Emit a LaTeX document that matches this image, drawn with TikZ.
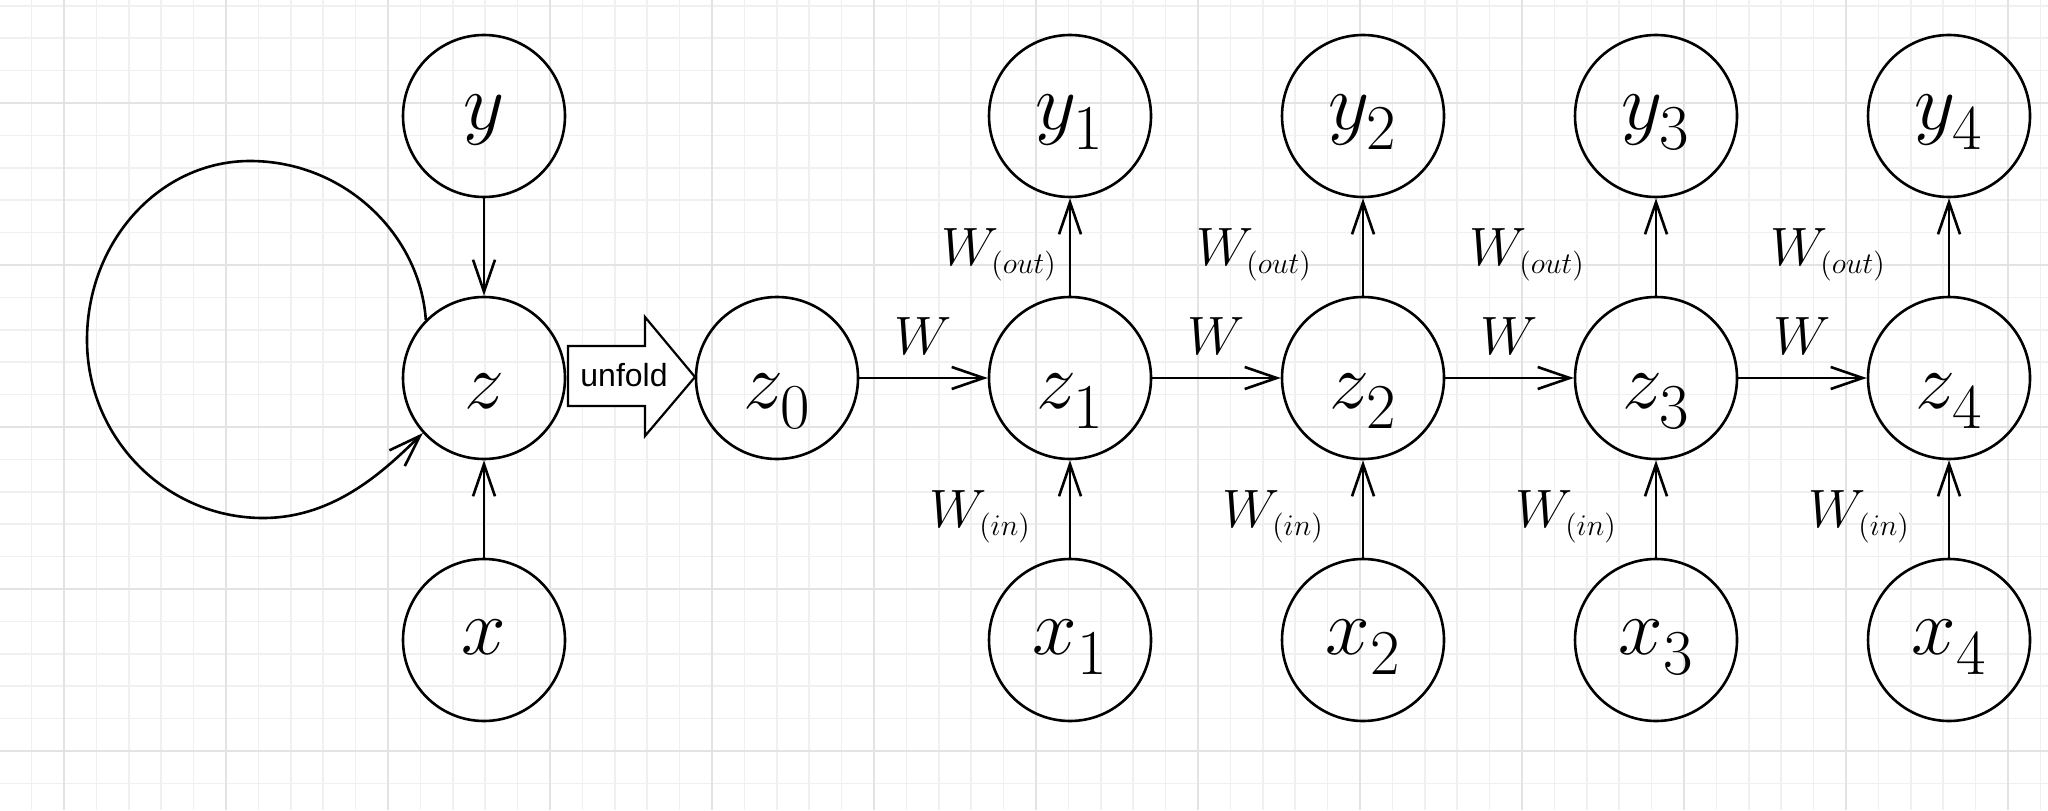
\RequirePackage{fix-cm}
\documentclass[tikz,border=0pt]{standalone}
\usepackage{fontspec}
\newfontfamily\helv{Liberation Sans}
\usetikzlibrary{positioning,arrows.meta}
\DeclareMathSizes{40}{40}{32}{24}
\DeclareMathSizes{27}{27}{15}{11}
\newcommand\low[1]{\raisebox{-4pt}{$\scriptstyle#1$}}
\tikzset{
  unit/.style={circle, draw, line width=1.3pt, minimum size=81pt, inner sep=0pt,
    text height=20pt, text depth=6pt, font=\fontsize{40}{44}\selectfont},
  hidden/.style={unit, text height=36pt},
  wlabel/.style={inner sep=0pt, font=\fontsize{27}{30}\selectfont},
  wside/.style={wlabel, yshift=-4pt},
  gridminor/.style={draw=black!6, line width=0.8pt},
  gridmajor/.style={draw=black!11, line width=0.8pt},
}
\begin{document}
\begin{tikzpicture}[x=0.5pt, y=0.5pt, node distance=131pt and 146.5pt, on grid,
  >={Straight Barb[length=16pt,width=11pt]}, line width=1.3pt]
\useasboundingbox (0,0) rectangle (2048,810);
\fill[white] (0,0) rectangle (2048,810);
% background grid
\foreach \i in {1,...,63} \draw[gridminor] ({-0.8+32.4*\i},0) -- ({-0.8+32.4*\i},810);
\foreach \j in {0,...,24} \draw[gridminor] (0,{804.2-32.4*\j}) -- (2048,{804.2-32.4*\j});
\foreach \i in {0,...,12} \draw[gridmajor] ({64+162*\i},0) -- ({64+162*\i},810);
\foreach \j in {0,...,4} \draw[gridmajor] (0,{707-162*\j}) -- (2048,{707-162*\j});

% folded network
\node[hidden] (z) at (484,432) {$z$};
\node[unit] (y) [above=of z] {$y$};
\node[unit] (x) [below=of z] {$x$};

% unfolded network
\node[hidden] (z0) [right=of z] {$z_{\low{0}}$};
\node[hidden] (z1) [right=of z0] {$z_{\low{1}}$};
\node[unit] (y1) [above=of z1] {$y_{\low{1}}$};
\node[unit] (x1) [below=of z1] {$x_{\low{1}}$};
\node[hidden] (z2) [right=of z1] {$z_{\low{2}}$};
\node[unit] (y2) [above=of z2] {$y_{\low{2}}$};
\node[unit] (x2) [below=of z2] {$x_{\low{2}}$};
\node[hidden] (z3) [right=of z2] {$z_{\low{3}}$};
\node[unit] (y3) [above=of z3] {$y_{\low{3}}$};
\node[unit] (x3) [below=of z3] {$x_{\low{3}}$};
\node[hidden] (z4) [right=of z3] {$z_{\low{4}}$};
\node[unit] (y4) [above=of z4] {$y_{\low{4}}$};
\node[unit] (x4) [below=of z4] {$x_{\low{4}}$};

\draw [->] (y) -- (z);
\draw [->] (x) -- (z);
\draw [->] (z.135) .. controls (420,575) and (345,649) .. (250,649)
  .. controls (160,649) and (87,569) .. (87,470)
  .. controls (87,372) and (166,292) .. (263,292)
  .. controls (335,292) and (385,340) .. (z.222);

% unfold arrow
\filldraw[fill=white, line width=1.1pt] (568,464) -- (645,464) -- (645,493) -- (695,433)
  -- (645,374) -- (645,404) -- (568,404) -- cycle;
\node[inner sep=0pt, font=\helv\fontsize{16}{18}\selectfont] (unfold) at (624,435) {unfold};

\draw [->] (z0) -- node[wlabel, above=11pt] {$W$} (z1);
\draw [->] (z1) -- node[wlabel, above=11pt] {$W$} (z2);
\draw [->] (z2) -- node[wlabel, above=11pt] {$W$} (z3);
\draw [->] (z3) -- node[wlabel, above=11pt] {$W$} (z4);

\draw [->] (z1) -- node[wside, left=6pt] {$W_{(out)}$} (y1);
\draw [->] (z2) -- node[wside, left=25pt] {$W_{(out)}$} (y2);
\draw [->] (z3) -- node[wside, left=35pt] {$W_{(out)}$} (y3);
\draw [->] (z4) -- node[wside, left=31pt] {$W_{(out)}$} (y4);

\draw [->] (x1) -- node[wside, left=19pt] {$W_{(in)}$} (z1);
\draw [->] (x2) -- node[wside, left=19pt] {$W_{(in)}$} (z2);
\draw [->] (x3) -- node[wside, left=19pt] {$W_{(in)}$} (z3);
\draw [->] (x4) -- node[wside, left=19pt] {$W_{(in)}$} (z4);
\end{tikzpicture}
\end{document}
